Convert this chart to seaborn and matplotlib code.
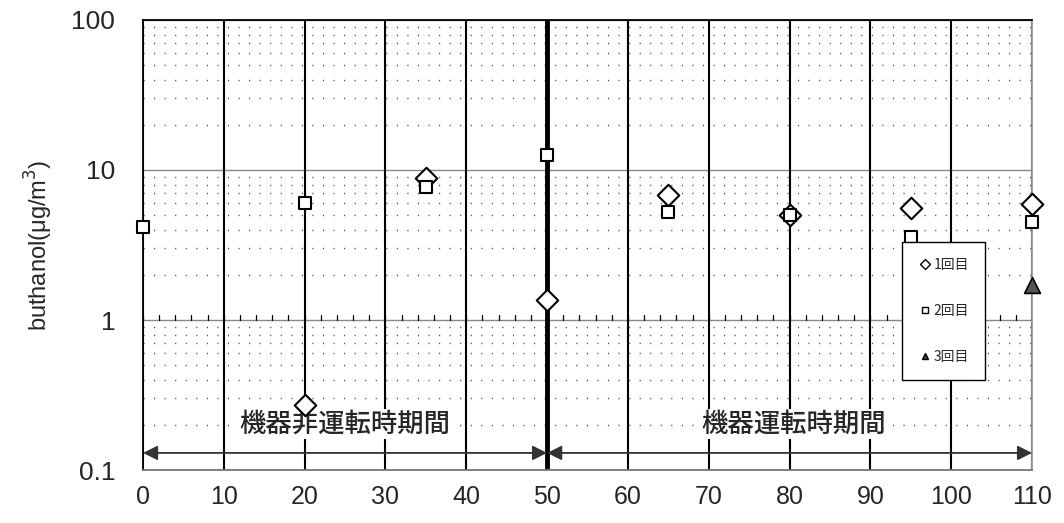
import matplotlib
matplotlib.use("Agg")
import matplotlib.pyplot as plt
import seaborn as sns
import pandas as pd
import numpy as np
from matplotlib.ticker import FixedLocator, NullFormatter
from matplotlib.lines import Line2D

sns.set_theme(style="white")
plt.rcParams['font.family'] = ['Noto Sans CJK JP', 'DejaVu Sans']

# data
x1 = [20, 35, 50, 65, 80, 95, 110]
y1 = [0.27, 8.8, 1.36, 6.8, 5.0, 5.6, 5.9]
x2 = [0, 20, 35, 50, 65, 80, 95, 110]
y2 = [4.2, 6.0, 7.7, 12.6, 5.25, 5.0, 3.6, 4.5]
x3 = [110]
y3 = [1.7]
labels = ["1回目", "2回目", "3回目"]
xticks = list(range(0, 111, 10))
yticks = [0.1, 1, 10, 100]
ytick_labels = ["0.1", "1", "10", "100"]
period_labels = ["機器非運転時期間", "機器運転時期間"]
period_edges = [0, 50, 110]

df = pd.concat([
    pd.DataFrame({"x": x1, "y": y1, "s": labels[0]}),
    pd.DataFrame({"x": x2, "y": y2, "s": labels[1]}),
    pd.DataFrame({"x": x3, "y": y3, "s": labels[2]}),
])

fig = plt.figure(figsize=(10.64, 5.23), dpi=100)
ax = fig.add_axes([0.1344, 0.1013, 0.8356, 0.8605])
ax.set_yscale("log")
ax.set_xlim(0, 110)
ax.set_ylim(0.1, 100)

# minor dotted horizontal grid
ax.yaxis.set_minor_locator(FixedLocator([m * 10.0 ** e for e in range(-1, 2) for m in range(2, 10)]))
ax.yaxis.set_minor_formatter(NullFormatter())
ax.grid(which="minor", axis="y", color="#444444", linestyle=(0, (0.8, 6.8)), linewidth=1.0)
# major horizontal grid
for yv in yticks:
    ax.axhline(yv, color="#888888", lw=1.0, zorder=1)
# vertical solid grid
for xv in xticks:
    ax.axvline(xv, color="black", lw=3.5 if xv == 50 else 1.5, zorder=1.5)
ax.tick_params(which="both", length=0)
ax.set_xticks(xticks)
ax.set_xticklabels([str(v) for v in xticks], fontsize=18, family="Liberation Sans")
ax.set_yticks(yticks)
ax.set_yticklabels(ytick_labels, fontsize=19, family="Liberation Sans")
ax.tick_params(axis="x", pad=11)
ax.tick_params(axis="y", pad=20)

# small ticks along y=1 line
for xv in np.arange(0, 110.01, 2):
    ax.plot([xv, xv], [1.0, 1.08], color="black", lw=0.9, zorder=1.6)

sns.scatterplot(data=df[df.s == labels[0]], x="x", y="y", marker="D", s=120,
                facecolor="white", edgecolor="black", linewidth=1.5, ax=ax, zorder=5,
                legend=False, clip_on=False)
sns.scatterplot(data=df[df.s == labels[1]], x="x", y="y", marker="s", s=80,
                facecolor="white", edgecolor="black", linewidth=1.5, ax=ax, zorder=5,
                legend=False, clip_on=False)
sns.scatterplot(data=df[df.s == labels[2]], x="x", y="y", marker="^", s=130,
                color="#555555", edgecolor="black", linewidth=1.2, ax=ax, zorder=5,
                legend=False, clip_on=False)

# period arrows and labels
for i in range(2):
    a, b = period_edges[i], period_edges[i + 1]
    ax.annotate("", xy=(a, 0.13), xytext=(b, 0.13),
                arrowprops=dict(arrowstyle="<|-|>", color="#333333", lw=1.3,
                                mutation_scale=22, shrinkA=0, shrinkB=0), zorder=6)
ax.text(25, 0.203, period_labels[0], ha="center", va="center", fontsize=19,
        fontweight="medium",
        bbox=dict(facecolor="white", edgecolor="none", pad=1), zorder=4)
ax.text(80.5, 0.203, period_labels[1], ha="center", va="center", fontsize=19,
        fontweight="medium",
        bbox=dict(facecolor="white", edgecolor="none", pad=1), zorder=4)

ax.set_xlabel("")
ax.set_ylabel("buthanol(μg/m$^3$)", fontsize=17, family=["Liberation Sans", "DejaVu Sans"],
              labelpad=12)

for sp in ax.spines.values():
    sp.set_color("black")
    sp.set_linewidth(1.3)
ax.spines["right"].set_color("#999999")
ax.spines["bottom"].set_color("#777777")

handles = [
    Line2D([], [], marker="D", ls="none", mfc="white", mec="black", ms=5, mew=1),
    Line2D([], [], marker="s", ls="none", mfc="white", mec="black", ms=5, mew=1),
    Line2D([], [], marker="^", ls="none", mfc="#444444", mec="black", ms=5, mew=1),
]
leg = ax.legend(handles, labels, loc="upper left", bbox_to_anchor=(0.854, 0.507),
                frameon=True, fontsize=10, labelspacing=2.3, handletextpad=0.1,
                handlelength=1.0, borderpad=1.15, borderaxespad=0, fancybox=False)
leg.get_frame().set_edgecolor("black")
leg.get_frame().set_linewidth(1.0)
leg.get_frame().set_alpha(1)
leg.set_zorder(10)

fig.savefig("out.png", dpi=100)
